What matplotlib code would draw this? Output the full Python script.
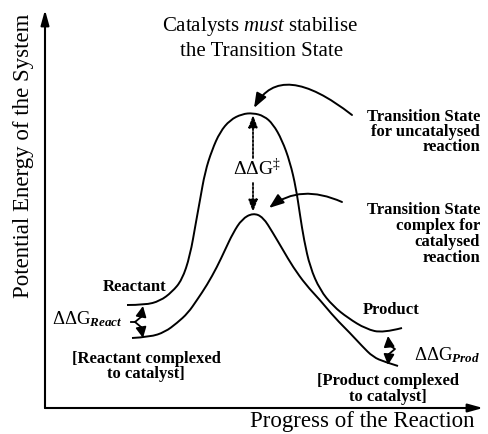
"""
Energy profile: catalysed vs uncatalysed reaction
"""

import matplotlib

matplotlib.use("Agg")
import matplotlib.pyplot as plt
from matplotlib.path import Path
from matplotlib.patches import PathPatch

# readings, origin at the corner of the axes
uncat_progress = [82, 100, 115, 127, 137, 145, 151, 155, 160, 167, 175, 185, 197,
                  208, 219, 228, 237, 245, 251, 255, 259, 265, 275, 288, 303, 321,
                  338, 357]
uncat_energy = [103, 103, 107, 116, 128, 152, 186, 208, 236, 258, 276, 288, 294,
                295, 292, 284, 268, 246, 220, 193, 168, 141, 118, 102, 90, 79,
                75, 80]

cat_progress = [87, 105, 120, 132, 143, 152, 162, 172, 180, 188, 197, 208, 218,
                228, 238, 248, 261, 275, 290, 305, 317, 328, 340, 353]
cat_energy = [70, 71, 76, 85, 95, 108, 123, 141, 158, 175, 189, 195, 191, 175,
              158, 141, 123, 108, 90, 75, 62, 51, 46, 42]

title_lines = [r"$\mathrm{Catalysts}\ \mathit{must}\ \mathrm{stabilise}$",
               "the Transition State"]
x_label = "Progress of the Reaction"
y_label = "Potential Energy of the System"

FONT = "Liberation Serif"


def smooth_path(xs, ys):
    # quadratic segments between midpoints, so the line has no corners
    verts = [(xs[0], ys[0])]
    codes = [Path.MOVETO]
    n = len(xs)
    for i in range(1, n - 1):
        if i < n - 2:
            end = ((xs[i] + xs[i + 1]) / 2, (ys[i] + ys[i + 1]) / 2)
        else:
            end = (xs[-1], ys[-1])
        verts += [(xs[i], ys[i]), end]
        codes += [Path.CURVE3, Path.CURVE3]
    return Path(verts, codes)


def arrow(ax, tip, tail, style="-|>,head_length=0.8,head_width=0.3", conn="arc3",
          ls="-", lw=1.3, scale=10):
    ax.annotate(
        "",
        xy=tip,
        xytext=tail,
        arrowprops=dict(
            arrowstyle=style,
            connectionstyle=conn,
            color="black",
            lw=lw,
            linestyle=ls,
            mutation_scale=scale,
            shrinkA=0,
            shrinkB=0,
        ),
        annotation_clip=False,
    )


def create_plot():
    plt.rcParams["font.family"] = FONT
    plt.rcParams["mathtext.fontset"] = "custom"
    plt.rcParams["mathtext.rm"] = FONT
    plt.rcParams["mathtext.it"] = FONT + ":italic"
    plt.rcParams["mathtext.bf"] = FONT + ":bold"
    plt.rcParams["mathtext.bfit"] = FONT + ":italic:bold"

    fig = plt.figure(figsize=(4.88, 4.34), dpi=100)
    ax = fig.add_axes([45 / 488, 26 / 434, 440 / 488, 398 / 434])
    ax.set_xlim(0, 440)
    ax.set_ylim(0, 398)
    ax.axis("off")

    # axes drawn as arrows
    arrow(ax, (438, 0), (0, 0), style="-|>,head_length=0.9,head_width=0.25", lw=1.5)
    arrow(ax, (0, 398), (0, 0), style="-|>,head_length=0.9,head_width=0.25", lw=1.5)

    for xs, ys in [(uncat_progress, uncat_energy), (cat_progress, cat_energy)]:
        ax.add_patch(PathPatch(smooth_path(xs, ys), fill=False, lw=1.4,
                               edgecolor="black", capstyle="butt"))

    # dotted double arrow between the two transition states
    dots = (0, (1.2, 1.0))
    arrow(ax, (208, 293), (208, 250), ls=dots, lw=1.3, scale=9)
    arrow(ax, (208, 196), (208, 225), ls=dots, lw=1.3, scale=9)
    ax.text(212, 233, r"$\Delta\Delta\mathrm{G}^{\ddag}$", fontsize=14,
            ha="center", va="baseline")

    # curved pointers to the transition states
    arrow(ax, (209, 300), (307, 293), conn="angle3,angleA=142,angleB=61",
          lw=1.4, scale=11)
    arrow(ax, (224, 200), (297, 206), conn="angle3,angleA=156,angleB=38",
          lw=1.4, scale=11)

    # braces between the bound and unbound states
    brace = "-|>,head_length=0.7,head_width=0.35"
    arrow(ax, (98, 102), (96, 91), style=brace, lw=1.3, scale=9)
    arrow(ax, (98, 70), (96, 81), style=brace, lw=1.3, scale=9)
    ax.plot([86, 90, 96], [86, 86, 91], color="black", lw=1.3)
    ax.plot([90, 96], [86, 81], color="black", lw=1.3)

    arrow(ax, (343, 72), (344, 63), style=brace, lw=1.3, scale=9)
    arrow(ax, (343, 43), (344, 54), style=brace, lw=1.3, scale=9)
    ax.plot([344, 350, 344], [63, 59, 54], color="black", lw=1.3)

    # labels
    ax.text(215, 381, title_lines[0], fontsize=15, ha="center", va="center",
            clip_on=False)
    ax.text(217, 356, title_lines[1], fontsize=15, ha="center", va="center",
            clip_on=False)
    ax.text(317, -14, x_label, fontsize=16.5, ha="center", va="center",
            clip_on=False)
    ax.text(-21, 252, y_label, fontsize=16.5, ha="center", va="center",
            rotation=90, clip_on=False)

    small = dict(fontsize=12, fontweight="bold", clip_on=False)
    ax.text(435, 276, "Transition State\nfor uncatalysed\nreaction", ha="right",
            va="center", multialignment="right", linespacing=0.95, **small)
    ax.text(435, 174, "Transition State\ncomplex for\ncatalysed\nreaction",
            ha="right", va="center", multialignment="right", linespacing=1.0,
            **small)
    ax.text(90, 121, "Reactant", ha="center", va="center", **small)
    ax.text(101, 41.5, "[Reactant complexed\nto catalyst]", ha="center",
            va="center", multialignment="center", linespacing=0.95, **small)
    ax.text(346, 98, "Product", ha="center", va="center", **small)
    ax.text(343, 19, "[Product complexed\nto catalyst]", ha="center",
            va="center", multialignment="center", linespacing=0.95, **small)

    ax.text(7, 84, r"$\Delta\Delta\mathrm{G}_{\mathbfit{React}}$", fontsize=13.5,
            ha="left", va="baseline", clip_on=False)
    ax.text(369, 48, r"$\Delta\Delta\mathrm{G}_{\mathbfit{Prod}}$", fontsize=13.5,
            ha="left", va="baseline", clip_on=False)

    return fig


def main():
    fig = create_plot()
    fig.savefig("out.png", dpi=100, facecolor="white")
    plt.close(fig)


if __name__ == "__main__":
    main()
